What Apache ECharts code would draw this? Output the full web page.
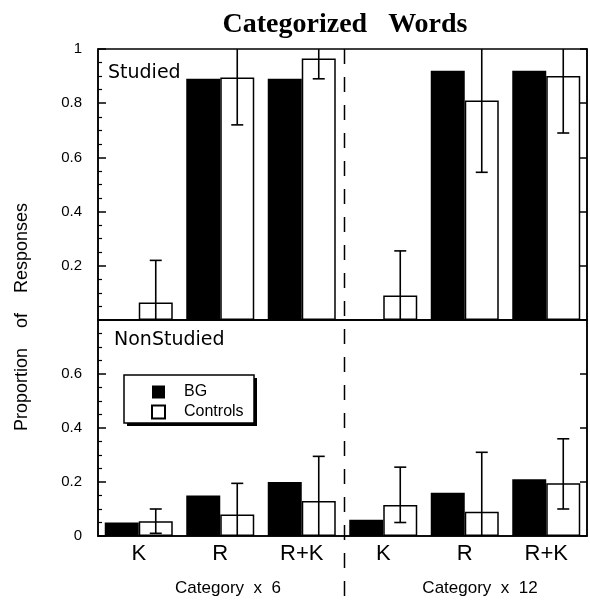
<!DOCTYPE html>
<html>
<head>
<meta charset="utf-8">
<script src="https://cdn.jsdelivr.net/npm/echarts@6/dist/echarts.min.js"></script>
<style>
  html, body { margin: 0; padding: 0; background: #fff; }
  #chart { width: 590px; height: 601px; }
</style>
</head>
<body>
<div id="chart"></div>
<script>
// Response categories, two list lengths (6 and 12 words per category)
const categories = ['K', 'R', 'R+K', 'K', 'R', 'R+K'];
const groupLabels = ['Category  x  6', 'Category  x  12'];
const seriesNames = ['BG', 'Controls'];

// Studied items (upper panel)
const studiedBG = [0, 0.89, 0.89, 0, 0.92, 0.92];
const studiedControls = [0.065, 0.895, 0.965, 0.09, 0.81, 0.90];
const studiedErrLow = [-0.09, 0.72, 0.89, -0.07, 0.545, 0.69];
const studiedErrHigh = [0.22, 1.07, 1.04, 0.255, 1.08, 1.11];

// NonStudied items (lower panel)
const nonBG = [0.05, 0.15, 0.20, 0.06, 0.16, 0.21];
const nonControls = [0.055, 0.08, 0.13, 0.115, 0.09, 0.195];
const nonErrLow = [0.01, -0.035, -0.035, 0.05, -0.13, 0.10];
const nonErrHigh = [0.10, 0.195, 0.295, 0.255, 0.31, 0.36];

// Axis ticks
const studiedTicks = { min: 0, max: 1, interval: 0.2 };
const nonTicks = { min: 0, max: 0.8, interval: 0.2 };

// Divider between the two list-length groups sits after this category index
const dividerAfter = 2;

const BAR_W = 34;
const INK = '#000';
const SANS = 'Liberation Sans';

// Legend box placement (drawn as a framed panel with a drop shadow)
const LEG = { left: 124, top: 375, width: 130, height: 48 };

const chart = echarts.init(document.getElementById('chart'), null, { renderer: 'canvas' });

function errorBarRenderer(params, api) {
  const i = api.value(0);
  const lo = api.coord([i, api.value(1)]);
  const hi = api.coord([i, api.value(2)]);
  const cs = params.coordSys;
  const x = lo[0] + BAR_W / 2;
  const top = cs.y, bottom = cs.y + cs.height;
  const yHi = Math.max(hi[1], top);
  const yLo = Math.min(lo[1], bottom);
  const cap = 6;
  const style = { stroke: INK, lineWidth: 1.6, fill: null };
  const children = [{ type: 'line', shape: { x1: x, y1: yHi, x2: x, y2: yLo }, style }];
  if (hi[1] >= top) children.push({ type: 'line', shape: { x1: x - cap, y1: hi[1], x2: x + cap, y2: hi[1] }, style });
  if (lo[1] <= bottom) children.push({ type: 'line', shape: { x1: x - cap, y1: lo[1], x2: x + cap, y2: lo[1] }, style });
  return { type: 'group', children };
}

function dividerRenderer(params, api) {
  const c = api.coord([api.value(0), api.value(1)]);
  const band = api.size([1, 0])[0];
  const x = c[0] + band / 2 + 2;
  return {
    type: 'line',
    shape: { x1: x, y1: params.coordSys.y, x2: x, y2: api.getHeight() },
    style: { stroke: INK, lineWidth: 1.5, lineDash: [15, 13] }
  };
}

function leftAxis(gridIndex, ticks, hideValue) {
  return {
    type: 'value', gridIndex, position: 'left',
    min: ticks.min, max: ticks.max, interval: ticks.interval,
    axisLine: { show: true, lineStyle: { color: INK, width: 1.5 } },
    axisTick: { show: true, inside: true, length: 8, lineStyle: { color: INK, width: 1.5 } },
    minorTick: { show: true, splitNumber: 4, length: 4, lineStyle: { color: INK, width: 1.2 } },
    splitLine: { show: false },
    axisLabel: {
      margin: 16, color: INK, fontFamily: SANS, fontSize: 15,
      formatter: v => (Math.abs(v - hideValue) < 1e-9 ? '' : String(+v.toFixed(2)))
    }
  };
}

function rightAxis(gridIndex, ticks) {
  return {
    type: 'value', gridIndex, position: 'right',
    min: ticks.min, max: ticks.max, interval: ticks.interval,
    axisLine: { show: true, lineStyle: { color: INK, width: 1.5 } },
    axisTick: { show: true, inside: true, length: 7, lineStyle: { color: INK, width: 1.5 } },
    splitLine: { show: false },
    axisLabel: { show: false }
  };
}

function categoryAxis(gridIndex, showLabels) {
  return {
    type: 'category', gridIndex, data: categories,
    axisLine: { show: true, lineStyle: { color: INK, width: 1.5 } },
    axisTick: { show: false },
    axisLabel: { show: showLabels, margin: 7, color: INK, fontFamily: SANS, fontSize: 22 }
  };
}

const bgStyle = { color: INK, borderColor: INK, borderWidth: 0 };
const ctrlStyle = { color: '#fff', borderColor: INK, borderWidth: 1.5 };

function barPair(xi, yi, bg, ctrl) {
  return [
    { name: seriesNames[0], type: 'bar', xAxisIndex: xi, yAxisIndex: yi, data: bg,
      barWidth: BAR_W, barGap: '0%', itemStyle: bgStyle, silent: true },
    { name: seriesNames[1], type: 'bar', xAxisIndex: xi, yAxisIndex: yi, data: ctrl,
      barWidth: BAR_W, barGap: '0%', itemStyle: ctrlStyle, silent: true }
  ];
}

function errSeries(xi, yi, low, high) {
  return {
    type: 'custom', xAxisIndex: xi, yAxisIndex: yi, silent: true, z: 5,
    data: categories.map((_, i) => [i, low[i], high[i]]),
    encode: { x: 0, y: [1, 2] },
    renderItem: errorBarRenderer
  };
}

const option = {
  animation: false,
  backgroundColor: '#fff',
  grid: [
    { left: 98, right: 3, top: 49, height: 271, show: true, borderColor: INK, borderWidth: 1.5, backgroundColor: 'transparent' },
    { left: 98, right: 3, top: 320, height: 216, show: true, borderColor: INK, borderWidth: 1.5, backgroundColor: 'transparent' }
  ],
  xAxis: [categoryAxis(0, false), categoryAxis(1, true)],
  yAxis: [
    leftAxis(0, studiedTicks, 0),
    leftAxis(1, nonTicks, 0.8),
    rightAxis(0, studiedTicks),
    rightAxis(1, nonTicks)
  ],
  legend: {
    data: seriesNames,
    orient: 'vertical', left: LEG.left + 27, top: LEG.top + 9,
    icon: 'rect', itemWidth: 13, itemHeight: 13, itemGap: 4,
    padding: 0,
    selectedMode: false,
    z: 20,
    textStyle: { color: INK, fontFamily: SANS, fontSize: 16, padding: [0, 0, 0, 14] }
  },
  graphic: [
    { type: 'rect', z: 15, shape: { x: LEG.left + 3, y: LEG.top + 3, width: LEG.width, height: LEG.height }, style: { fill: INK } },
    { type: 'rect', z: 16, shape: { x: LEG.left, y: LEG.top, width: LEG.width, height: LEG.height }, style: { fill: '#fff', stroke: INK, lineWidth: 1.5 } },
    { type: 'text', x: 345, y: 25, style: { text: 'Categorized   Words', fontFamily: 'Liberation Serif', fontWeight: 'bold', fontSize: 28, fill: INK, textAlign: 'center', textVerticalAlign: 'middle' } },
    { type: 'text', x: 22, y: 317, rotation: Math.PI / 2, style: { text: 'Proportion    of    Responses', fontFamily: SANS, fontSize: 18, fill: INK, textAlign: 'center', textVerticalAlign: 'middle' } },
    { type: 'text', x: 108, y: 73, style: { text: 'Studied', fontFamily: 'DejaVu Sans', fontSize: 19, fill: INK, textVerticalAlign: 'middle' } },
    { type: 'text', x: 114, y: 340, style: { text: 'NonStudied', fontFamily: 'DejaVu Sans', fontSize: 19, fill: INK, textVerticalAlign: 'middle' } },
    { type: 'text', x: 228, y: 588, style: { text: groupLabels[0], fontFamily: SANS, fontSize: 17, fill: INK, textAlign: 'center', textVerticalAlign: 'middle' } },
    { type: 'text', x: 480, y: 588, style: { text: groupLabels[1], fontFamily: SANS, fontSize: 17, fill: INK, textAlign: 'center', textVerticalAlign: 'middle' } }
  ],
  series: [
    ...barPair(0, 0, studiedBG, studiedControls),
    ...barPair(1, 1, nonBG, nonControls),
    errSeries(0, 0, studiedErrLow, studiedErrHigh),
    errSeries(1, 1, nonErrLow, nonErrHigh),
    {
      type: 'custom', xAxisIndex: 0, yAxisIndex: 0, silent: true, z: 6,
      data: [[dividerAfter, studiedTicks.max]],
      renderItem: dividerRenderer
    }
  ]
};

chart.setOption(option);
</script>
</body>
</html>
